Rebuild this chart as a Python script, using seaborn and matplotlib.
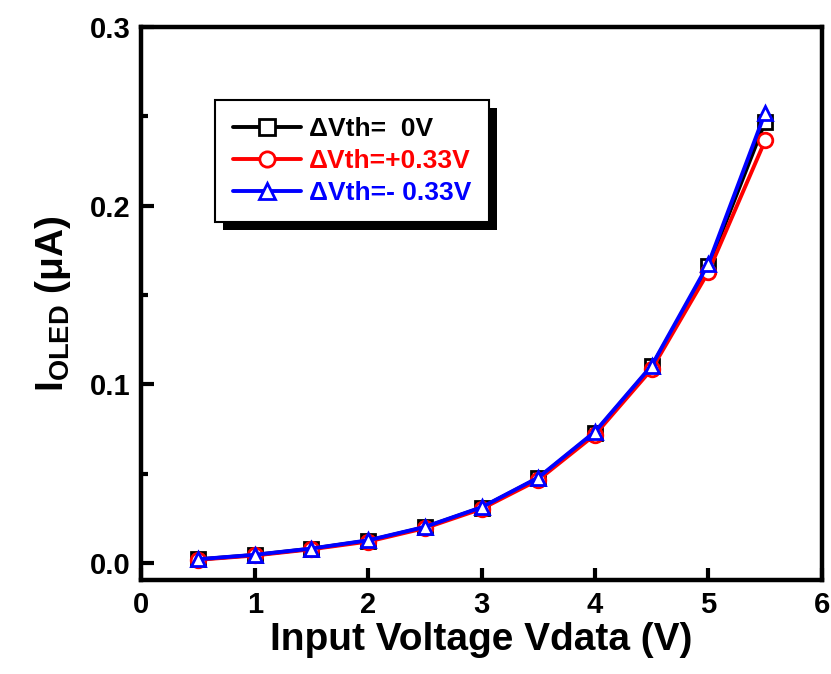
import matplotlib
matplotlib.use("Agg")
import matplotlib.pyplot as plt
import numpy as np
import pandas as pd
import seaborn as sns
from matplotlib.patches import Rectangle
from matplotlib.ticker import MultipleLocator

# data
vdata = [0.5, 1.0, 1.5, 2.0, 2.5, 3.0, 3.5, 4.0, 4.5, 5.0, 5.5]
i_zero = [0.0020, 0.0045, 0.0080, 0.0125, 0.0200, 0.0310, 0.0475, 0.0730, 0.1100, 0.1660, 0.2470]
i_plus = [0.0018, 0.0042, 0.0077, 0.0120, 0.0195, 0.0303, 0.0465, 0.0718, 0.1085, 0.1630, 0.2365]
i_minus = [0.0021, 0.0046, 0.0081, 0.0127, 0.0202, 0.0312, 0.0478, 0.0735, 0.1105, 0.1675, 0.2520]
labels = ["\u0394Vth=  0V", "\u0394Vth=+0.33V", "\u0394Vth=- 0.33V"]
colors = ["black", "#ff0000", "#0000ff"]
markers = ["s", "o", "^"]

df = pd.DataFrame({
    "vdata": vdata * 3,
    "current": i_zero + i_plus + i_minus,
    "case": [labels[0]] * len(vdata) + [labels[1]] * len(vdata) + [labels[2]] * len(vdata),
})

sns.set_style("ticks", {"axes.edgecolor": "black", "text.color": "black",
                        "axes.labelcolor": "black", "xtick.color": "black",
                        "ytick.color": "black"})
plt.rcParams["font.family"] = ["Liberation Sans", "DejaVu Sans"]
plt.rcParams["font.weight"] = "bold"
plt.rcParams["mathtext.fontset"] = "custom"
plt.rcParams["mathtext.rm"] = "Liberation Sans:bold"
plt.rcParams["mathtext.bf"] = "Liberation Sans:bold"
plt.rcParams["mathtext.default"] = "bf"

fig = plt.figure(figsize=(8.31, 6.74), dpi=100)
ax = fig.add_axes([0.170, 0.1395, 0.819, 0.8205])

for lab, col, mk in zip(labels, colors, markers):
    sns.lineplot(
        data=df[df["case"] == lab], x="vdata", y="current", ax=ax,
        color=col, marker=mk, markersize=10.5, markerfacecolor="white",
        markeredgecolor=col, markeredgewidth=2.0, linewidth=2.8, label=lab,
    )

ax.set_xlim(0, 6)
ax.set_ylim(-0.0095, 0.3)
ax.xaxis.set_major_locator(MultipleLocator(1))
ax.yaxis.set_major_locator(MultipleLocator(0.1))
ax.yaxis.set_minor_locator(MultipleLocator(0.05))
ax.yaxis.set_major_formatter(matplotlib.ticker.FormatStrFormatter("%.1f"))
ax.tick_params(which="both", direction="in", width=3, labelsize=21,
               top=False, right=False, colors="black")
ax.tick_params(which="major", length=9, pad=8)
ax.tick_params(which="minor", length=5)
for sp in ax.spines.values():
    sp.set_linewidth(3.2)
    sp.set_color("black")
    sp.set_visible(True)

ax.set_xlabel("Input Voltage Vdata (V)", fontsize=28, fontweight="bold", labelpad=2, color="black")
ax.set_ylabel("I$_{OLED}$ (\u03bcA)", fontsize=28, fontweight="bold", labelpad=12, color="black")

leg = ax.legend(
    loc="upper left", bbox_to_anchor=(0.109, 0.868), borderaxespad=0,
    fontsize=19, frameon=True, fancybox=False, handlelength=2.6,
    handletextpad=0.3, labelspacing=0.3, borderpad=0.65,
)
leg.get_frame().set_edgecolor("black")
leg.get_frame().set_linewidth(1.5)
leg.get_frame().set_alpha(1)
for txt, col in zip(leg.get_texts(), colors):
    txt.set_color(col)
    txt.set_fontweight("bold")
for h in leg.legend_handles:
    h.set_markersize(11)

# drop shadow behind legend
fig.canvas.draw()
bb = leg.get_window_extent().transformed(fig.transFigure.inverted())
shadow = Rectangle((bb.x0 + 8 / 831, bb.y0 - 8 / 674), bb.width, bb.height,
                   transform=fig.transFigure, facecolor="black", edgecolor="none",
                   zorder=leg.get_zorder() - 0.1)
ax.add_artist(shadow)
shadow.set_transform(fig.transFigure)
shadow.set_clip_on(False)

fig.savefig("out.png", dpi=100)
